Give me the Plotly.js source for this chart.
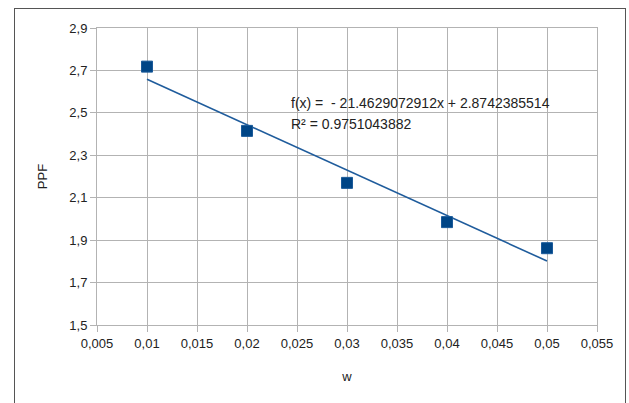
<!DOCTYPE html>
<html>
<head>
<meta charset="utf-8">
<script src="https://cdn.plot.ly/plotly-3.0.1.min.js"></script>
<style>
  html, body { margin: 0; padding: 0; background: #fff; }
  #wrap { position: relative; width: 629px; height: 403px; overflow: hidden; }
  #chart { position: absolute; left: 0; top: 0; width: 629px; height: 403px; }
  #frame { position: absolute; left: 14px; top: 8px; width: 612px; height: 420px;
           border: 1px solid #555; box-sizing: border-box; pointer-events: none; }
</style>
</head>
<body>
<div id="wrap">
  <div id="chart"></div>
  <div id="frame"></div>
</div>
<script>
const wValues = [0.01, 0.02, 0.03, 0.04, 0.05];
const ppfValues = [2.718, 2.415, 2.17, 1.985, 1.862];

const xTickVals = [0.005, 0.01, 0.015, 0.02, 0.025, 0.03, 0.035, 0.04, 0.045, 0.05, 0.055];
const xTickText = ["0,005", "0,01", "0,015", "0,02", "0,025", "0,03", "0,035", "0,04", "0,045", "0,05", "0,055"];
const yTickVals = [1.5, 1.7, 1.9, 2.1, 2.3, 2.5, 2.7, 2.9];
const yTickText = ["1,5", "1,7", "1,9", "2,1", "2,3", "2,5", "2,7", "2,9"];

const eqText = "f(x) =  - 21.4629072912x + 2.8742385514";
const r2Text = "R² = 0.9751043882";

// least-squares trend line computed from the data
const n = wValues.length;
const mx = wValues.reduce((a, b) => a + b, 0) / n;
const my = ppfValues.reduce((a, b) => a + b, 0) / n;
let sxy = 0, sxx = 0;
for (let i = 0; i < n; i++) {
  sxy += (wValues[i] - mx) * (ppfValues[i] - my);
  sxx += (wValues[i] - mx) * (wValues[i] - mx);
}
const slope = sxy / sxx;
const intercept = my - slope * mx;
const trendX = [wValues[0], wValues[n - 1]];
const trendY = trendX.map(x => intercept + slope * x);

const font = "Liberation Sans, Arial, sans-serif";

const traces = [
  {
    x: trendX, y: trendY, mode: "lines", type: "scatter",
    line: { color: "#1f5c9c", width: 1.6 }, hoverinfo: "skip"
  },
  {
    x: wValues, y: ppfValues, mode: "markers", type: "scatter",
    marker: { symbol: "square", size: 11, color: "#004586",
              line: { color: "#1a5a9a", width: 1 } }
  }
];

const layout = {
  width: 629, height: 403,
  margin: { l: 97, r: 32, t: 28, b: 78 },
  paper_bgcolor: "#fff", plot_bgcolor: "#fff",
  showlegend: false,
  font: { family: font, size: 13, color: "#222" },
  xaxis: {
    range: [0.005, 0.055],
    tickvals: xTickVals, ticktext: xTickText,
    showgrid: true, gridcolor: "#b3b3b3", gridwidth: 1,
    showline: true, linecolor: "#b3b3b3", mirror: true,
    ticks: "outside", ticklen: 6, tickcolor: "#b3b3b3",
    zeroline: false,
    tickfont: { family: font, size: 13, color: "#222" },
    title: { text: "w", font: { family: font, size: 13, color: "#222" }, standoff: 22 }
  },
  yaxis: {
    range: [1.5, 2.9],
    tickvals: yTickVals, ticktext: yTickText,
    showgrid: true, gridcolor: "#b3b3b3", gridwidth: 1,
    showline: true, linecolor: "#b3b3b3", mirror: true,
    ticks: "outside", ticklen: 6, tickcolor: "#b3b3b3",
    zeroline: false,
    tickfont: { family: font, size: 13, color: "#222" },
    title: { text: "PPF", font: { family: font, size: 13, color: "#222" }, standoff: 18 }
  },
  annotations: [
    { x: 0.02424, y: 2.548, xref: "x", yref: "y", text: eqText, showarrow: false,
      xanchor: "left", yanchor: "middle", font: { family: font, size: 14, color: "#222" } },
    { x: 0.02424, y: 2.449, xref: "x", yref: "y", text: r2Text, showarrow: false,
      xanchor: "left", yanchor: "middle", font: { family: font, size: 14, color: "#222" } }
  ]
};

Plotly.newPlot("chart", traces, layout, { displayModeBar: false, staticPlot: true });
</script>
</body>
</html>
